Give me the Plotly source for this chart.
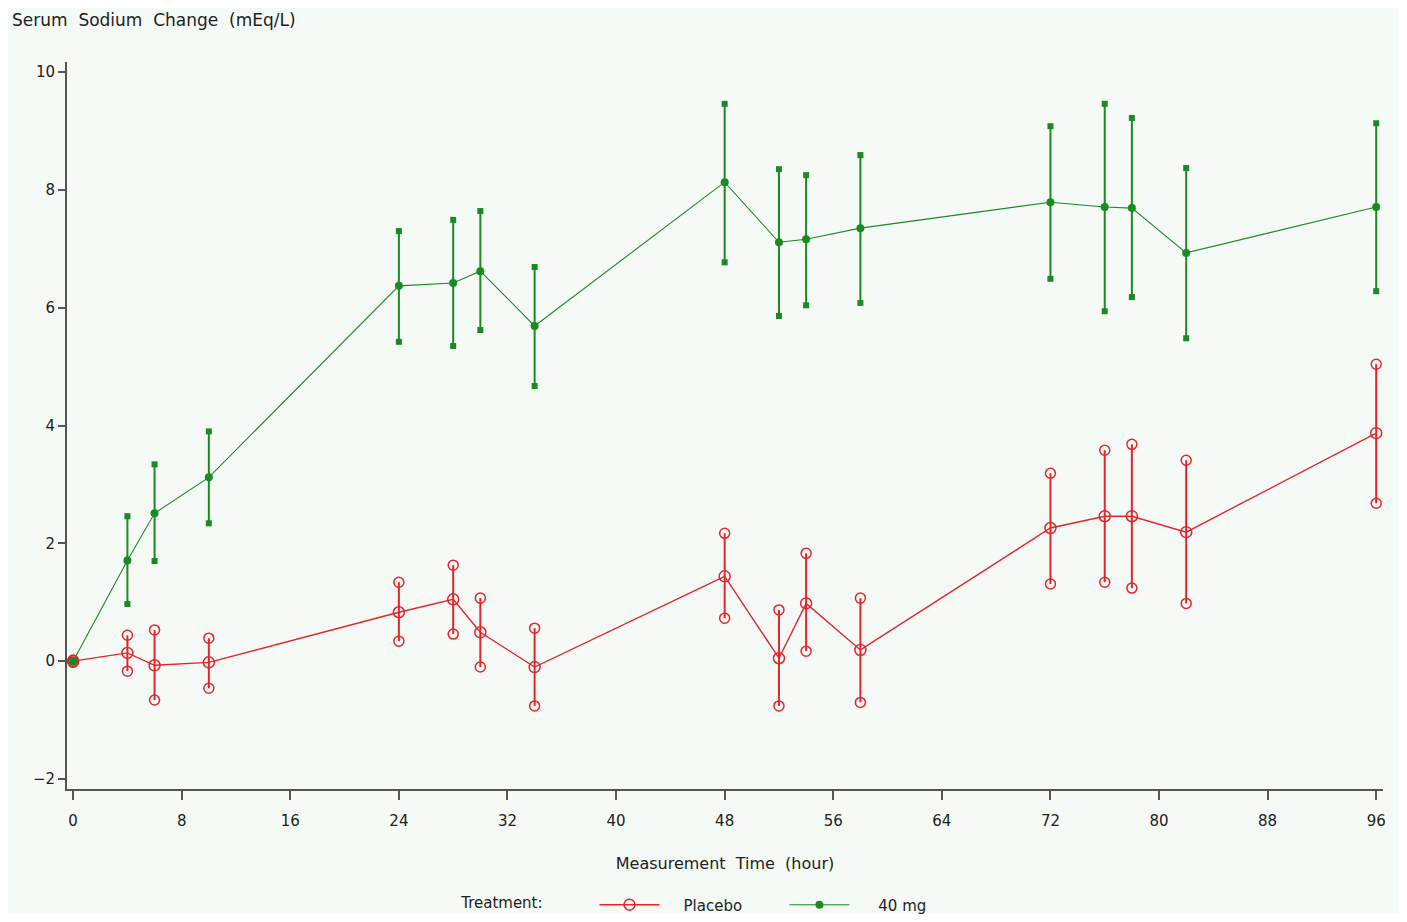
import plotly.graph_objects as go

hours = [0, 4, 6, 10, 24, 28, 30, 34, 48, 52, 54, 58, 72, 76, 78, 82, 96]

placebo_mean = [0.0, 0.14, -0.07, -0.02, 0.83, 1.05, 0.49, -0.10, 1.44, 0.05, 0.98, 0.19, 2.26, 2.46, 2.46, 2.19, 3.87]
placebo_upper = [0.02, 0.44, 0.53, 0.39, 1.34, 1.63, 1.07, 0.56, 2.17, 0.87, 1.83, 1.07, 3.19, 3.58, 3.68, 3.41, 5.04]
placebo_lower = [-0.02, -0.17, -0.66, -0.46, 0.34, 0.46, -0.10, -0.76, 0.73, -0.76, 0.17, -0.70, 1.31, 1.34, 1.24, 0.98, 2.68]

mg40_mean = [0.0, 1.71, 2.51, 3.12, 6.37, 6.42, 6.62, 5.69, 8.13, 7.11, 7.16, 7.35, 7.79, 7.71, 7.69, 6.93, 7.71]
mg40_upper = [0.02, 2.46, 3.34, 3.90, 7.30, 7.49, 7.64, 6.69, 9.46, 8.35, 8.25, 8.59, 9.08, 9.46, 9.22, 8.37, 9.13]
mg40_lower = [-0.02, 0.97, 1.70, 2.34, 5.42, 5.35, 5.62, 4.67, 6.77, 5.86, 6.04, 6.08, 6.49, 5.94, 6.18, 5.48, 6.28]

x_ticks = [0, 8, 16, 24, 32, 40, 48, 56, 64, 72, 80, 88, 96]
y_ticks = [-2, 0, 2, 4, 6, 8, 10]

RED = "#e3262b"
GREEN = "#1b8a23"
BG = "#f5faf7"
FONT = "DejaVu Sans, Verdana, sans-serif"
TXT = "#222222"
SP = "\u00a0"

fig = go.Figure()


def add_series(name, mean, upper, lower, color, mean_marker, end_marker, line_width):
    plus = [u - m for u, m in zip(upper, mean)]
    minus = [m - l for m, l in zip(mean, lower)]
    fig.add_trace(go.Scatter(
        x=hours, y=mean, mode="lines+markers", name=name,
        line=dict(color=color, width=line_width),
        marker=mean_marker,
        error_y=dict(type="data", symmetric=False, array=plus, arrayminus=minus,
                     color=color, thickness=2, width=0),
    ))
    fig.add_trace(go.Scatter(
        x=hours + hours, y=upper + lower, mode="markers", showlegend=False,
        marker=end_marker, hoverinfo="skip",
    ))


add_series(SP * 4 + "Placebo", placebo_mean, placebo_upper, placebo_lower, RED,
           dict(symbol="circle-open", size=11, color=RED, line=dict(width=1.5, color=RED)),
           dict(symbol="circle-open", size=10, color=RED, line=dict(width=1.5, color=RED)),
           1.4)
add_series(SP * 5 + "40" + SP + "mg", mg40_mean, mg40_upper, mg40_lower, GREEN,
           dict(symbol="circle", size=8, color=GREEN),
           dict(symbol="square", size=6, color=GREEN),
           1.1)

fig.update_layout(
    width=1391, height=906,
    margin=dict(l=59, r=16, t=54, b=125, autoexpand=False),
    paper_bgcolor=BG, plot_bgcolor=BG,
    font=dict(family=FONT, size=15, color=TXT),
    showlegend=True,
    legend=dict(orientation="h", x=0.298, xref="paper", y=0.010, yref="container",
                xanchor="left", yanchor="middle",
                title=dict(text="Treatment:" + SP * 9, font=dict(size=15)),
                font=dict(size=15), itemwidth=60, entrywidth=115,
                bgcolor="rgba(0,0,0,0)"),
    annotations=[dict(text=("Serum" + SP * 2 + "Sodium" + SP * 2 + "Change" + SP * 2 + "(mEq/L)"),
                      xref="paper", yref="paper",
                      x=-0.0433, y=1.0578, xanchor="left", yanchor="middle",
                      showarrow=False, font=dict(size=17, color=TXT))],
)

fig.update_xaxes(
    range=[-0.45, 96.5], tickvals=x_ticks, ticktext=[str(t) for t in x_ticks],
    showgrid=False, zeroline=False, showline=True, linecolor="#555555", linewidth=2,
    ticks="outside", ticklen=9, tickwidth=1.5, tickcolor="#555555",
    ticklabelstandoff=8, automargin=False,
    tickfont=dict(size=15),
    title=dict(text="Measurement" + SP * 2 + "Time" + SP * 2 + "(hour)", standoff=29, font=dict(size=16)),
)
fig.update_yaxes(
    range=[-2.17, 10.17], tickvals=y_ticks, ticktext=[str(t).replace("-", "\u2212") for t in y_ticks],
    showgrid=False, zeroline=False, showline=True, linecolor="#555555", linewidth=2,
    ticks="outside", ticklen=7, tickwidth=1.5, tickcolor="#555555",
    automargin=False,
    tickfont=dict(size=15),
)

fig.write_html("out.html")
